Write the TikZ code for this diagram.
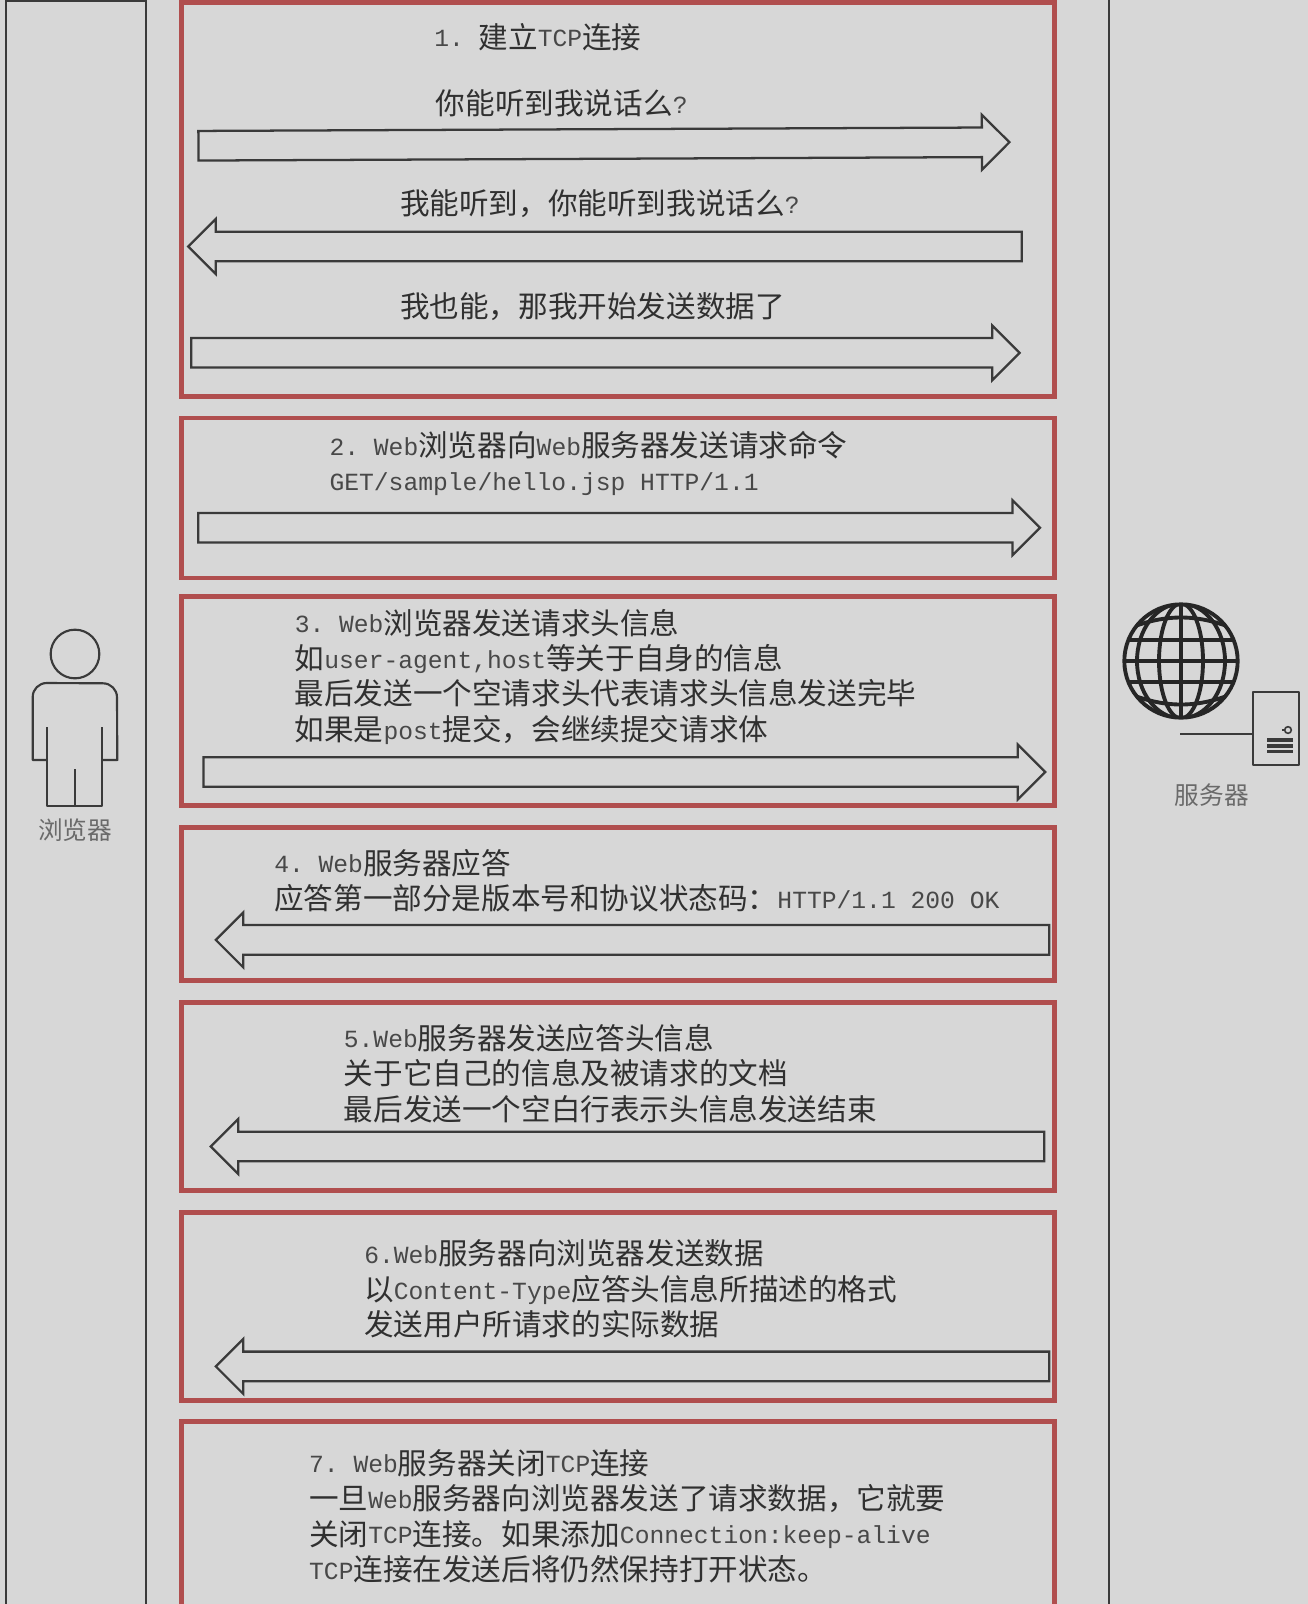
\documentclass[tikz,border=0pt]{standalone}
\usepackage{fontspec}
\usepackage{xcolor}
\usetikzlibrary{shapes.arrows, positioning}
\setmainfont{Noto Sans CJK SC}
\newfontfamily\latfont[Scale=0.833]{Liberation Mono}
\definecolor{pagegray}{HTML}{D7D7D7}
\definecolor{laneline}{HTML}{3A3A3A}
\definecolor{stepred}{HTML}{B04E4E}
\definecolor{steptext}{HTML}{303030}
\definecolor{lattext}{HTML}{484848}
\definecolor{roletext}{HTML}{6A6A6A}
\newcommand{\en}[1]{{\latfont\color{lattext}\raisebox{1pt}{#1}}}
\tikzset{
  lane/.style={rectangle,draw=laneline,line width=1.6pt,minimum height=1300pt,inner sep=0pt,outer sep=0pt},
  stepbox/.style={rectangle,draw=stepred,line width=3.7pt,minimum width=655pt,inner sep=0pt,outer sep=0pt},
  steptxt/.style={anchor=west,align=left,inner sep=0pt,text=steptext,font=\frenchspacing\fontsize{22.2}{26.6}\selectfont},
  blockarrow/.style={single arrow,anchor=tip,draw=laneline,line width=1.7pt,inner sep=0pt,outer sep=0pt,text height=20.5pt,text depth=0pt,
    single arrow head extend=9.5pt,single arrow tip angle=90,minimum width=39.5pt,minimum height=#1*0.75pt},
  sendarrow/.style={blockarrow=#1},
  backarrow/.style={blockarrow=#1,shape border rotate=180},
  role/.style={inner sep=0pt,text=roletext,font=\fontsize{18.5}{22}\selectfont},
  figure/.style={draw=laneline,line width=1.6pt,line join=round},
  globeline/.style={draw=black!85,line width=2.9pt},
}
\begin{document}
\begin{tikzpicture}[x=0.75pt,y=-0.75pt]
	\fill[pagegray] (0,0) rectangle (1308,1604);
	\path[use as bounding box,clip] (0,0) rectangle (1308,1604);
	% swimlanes
	\node[lane,minimum width=105.5pt] (BROWSER) at (76,868) {};
	\node[lane,minimum width=220pt] (SERVER) at (1255.3,866) {};
	% step boxes
	\node[stepbox,minimum height=295pt] (BOX1) at (618,199.5) {};
	\node[stepbox,minimum height=120pt] (BOX2) at (618,498) {};
	\node[stepbox,minimum height=157pt] (BOX3) at (618,701) {};
	\node[stepbox,minimum height=115pt] (BOX4) at (618,904.2) {};
	\node[stepbox,minimum height=141pt] (BOX5) at (618,1096.7) {};
	\node[stepbox,minimum height=141pt] (BOX6) at (618,1306.7) {};
	\node[stepbox,minimum height=246pt] (BOX7) at (618,1585.7) {};
	% step 1
	\node[steptxt] (HEAD1) at (434,36.8) {\en{1. }建立\en{TCP}连接};
	\node[steptxt] (ASK1) at (435.7,103.3) {你能听到我说话么\en{?}};
	\node[sendarrow=811,rotate=0.25] (SYN) at (1009.4,142.2) {};
	\node[steptxt] (ASK2) at (399.9,203.5) {我能听到，你能听到我说话么\en{?}};
	\node[backarrow=833.5] (SYNACK) at (188.2,246.5) {};
	\node[steptxt] (ASK3) at (399.9,306.8) {我也能，那我开始发送数据了};
	\node[sendarrow=828.4] (ACK) at (1019.6,352.8) {};
	% step 2
	\node[steptxt] (TEXT2) at (329.3,463.8) {\en{2. Web}浏览器向\en{Web}服务器发送请求命令\\\en{GET/sample/hello.jsp HTTP/1.1}};
	\node[sendarrow=841.7] (ARROW2) at (1040,527.7) {};
	% step 3
	\node[steptxt] (TEXT3) at (294.5,676.5) {\en{3. Web}浏览器发送请求头信息\\如\en{user-agent,host}等关于自身的信息\\最后发送一个空请求头代表请求头信息发送完毕\\如果是\en{post}提交，会继续提交请求体};
	\node[sendarrow=841.7] (ARROW3) at (1045.2,772) {};
	% step 4
	\node[steptxt] (TEXT4) at (274,880.6) {\en{4. Web}服务器应答\\应答第一部分是版本号和协议状态码：\en{HTTP/1.1 200 OK}};
	\node[backarrow=833.5] (ARROW4) at (215.8,939.9) {};
	% step 5
	\node[steptxt] (TEXT5) at (343.6,1073.4) {\en{5.Web}服务器发送应答头信息\\关于它自己的信息及被请求的文档\\最后发送一个空白行表示头信息发送结束};
	\node[backarrow=833.5] (ARROW5) at (210.7,1146.5) {};
	% step 6
	\node[steptxt] (TEXT6) at (364,1289.1) {\en{6.Web}服务器向浏览器发送数据\\以\en{Content-Type}应答头信息所描述的格式\\发送用户所请求的实际数据};
	\node[backarrow=833.5] (ARROW6) at (215.8,1366.4) {};
	% step 7
	\node[steptxt] (TEXT7) at (308.9,1516.1) {\en{7. Web}服务器关闭\en{TCP}连接\\一旦\en{Web}服务器向浏览器发送了请求数据，它就要\\关闭\en{TCP}连接。如果添加\en{Connection:keep-alive}\\\en{TCP}连接在发送后将仍然保持打开状态。};
	% browser figure
	\node[circle,figure,draw,minimum size=36.5pt,inner sep=0pt,outer sep=0pt] (HEAD) at (75,654) {};
	\draw[figure] (46.7,760) -- (32.7,760) -- (32.7,697) arc[start angle=180,end angle=90,radius=10.5pt] -- (103,683.3) arc[start angle=90,end angle=0,radius=10.5pt] -- (117.3,760) -- (101.7,760);
	\draw[figure] (46.7,727) -- (46.7,806) -- (101.7,806) -- (101.7,727);
	\draw[figure] (75,769) -- (75,806);
	\node[role] (BROWSERTXT) at (75,830) {浏览器};
	% server figure
	\node[circle,globeline,minimum size=85pt,inner sep=0pt,outer sep=0pt] (GLOBE) at (1181,661) {};
	\begin{scope}
		\clip (GLOBE) circle[radius=42.5pt];
		\draw[globeline] (GLOBE.center) ellipse[x radius=16.5pt,y radius=43pt];
		\draw[globeline] (GLOBE.center) ellipse[x radius=33pt,y radius=43pt];
		\draw[globeline] (GLOBE.north) -- (GLOBE.south);
		\draw[globeline] (GLOBE.west) -- (GLOBE.east);
		\draw[globeline] (1120,640) -- (1242,640);
		\draw[globeline] (1120,682) -- (1242,682);
		\draw[globeline] (1130,628) .. controls (1165,614) and (1197,614) .. (1232,628);
		\draw[globeline] (1130,694) .. controls (1165,708) and (1197,708) .. (1232,694);
	\end{scope}
	\node[rectangle,figure,draw,minimum width=34.5pt,minimum height=54.5pt,inner sep=0pt,outer sep=0pt] (BOXSRV) at (1276.3,728.7) {};
	\coordinate (LINK) at (1180,734.3);
	\draw[figure] (LINK) -- (LINK -| BOXSRV.west);
	\draw[figure,line width=2.4pt] (1267.3,740) -- (1292.7,740);
	\draw[figure,line width=2.4pt] (1267.3,746) -- (1292.7,746);
	\draw[figure,line width=2.4pt] (1267.3,751.7) -- (1292.7,751.7);
	\draw[figure,line width=1pt] (1282,730) -- (1285,730);
	\draw[figure,line width=1.2pt] (1288,730) circle[radius=2.5pt];
	\node[role] (SERVERTXT) at (1211.7,795) {服务器};
\end{tikzpicture}
\end{document}
